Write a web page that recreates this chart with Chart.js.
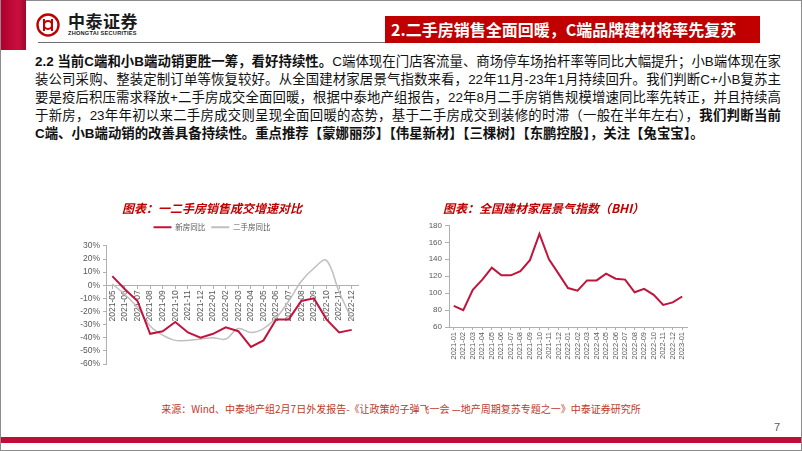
<!DOCTYPE html>
<html>
<head>
<meta charset="utf-8">
<script src="https://cdn.jsdelivr.net/npm/chart.js@4.4.0/dist/chart.umd.min.js"></script>
<style>
  html, body { margin: 0; padding: 0; background: #fff; }
  body { width: 802px; height: 451px; position: relative; overflow: hidden;
         font-family: "Liberation Sans", "Noto Sans CJK SC", sans-serif; }
  .abs { position: absolute; }
  #frame { left: 0; top: 0; width: 800px; height: 449px; border: 1px solid #8c8c8c; }
  #redTab { left: 1px; top: 0; width: 25px; height: 50px;
            background: linear-gradient(90deg, #b0002e 0%, #c8103e 70%, #9c0a2c 100%); }
  #hdrLine { left: 38px; top: 42px; width: 348px; height: 0; border-top: 1.5px solid #6f6f6f; }
  #brand { left: 68px; top: 11px; font-family: "Noto Sans CJK SC"; font-weight: 700;
           font-size: 17px; letter-spacing: 0.5px; color: #1a1a1a; line-height: 20px; }
  #brandEn { left: 68px; top: 30px; font-family: "Liberation Sans"; font-weight: 700;
             font-size: 5.6px; letter-spacing: 0.25px; color: #1a1a1a; }
  #titleBox { left: 385px; top: 16px; width: 375px; height: 27px; background: #c00000;
              color: #fff; font-family: "Noto Sans CJK SC"; font-weight: 700; font-size: 16px;
              line-height: 27px; padding-left: 6px; box-sizing: border-box; white-space: nowrap; }
  #body { left: 35px; top: 53px; width: 746px; font-size: 13.4px; line-height: 18px; color: #111; }
  #body div { text-align: justify; text-align-last: justify; white-space: nowrap; }
  #body div.last { text-align-last: left; }
  #body b { font-weight: 700; }
  #source { left: 0; width: 802px; top: 401px; text-align: center; color: #c0392b;
            font-family: "Noto Sans CJK SC"; font-size: 10px; }
  #pageNo { left: 774px; top: 421px; font-size: 11px; color: #595959; }
  #bottomBar { left: 1px; top: 437px; width: 800px; height: 6px; background: #c00d38; }
</style>
</head>
<body>
<div id="frame" class="abs"></div>
<div id="redTab" class="abs"></div>
<svg class="abs" style="left:36px;top:12px" width="24" height="26" viewBox="0 0 24 26">
  <circle cx="12" cy="13" r="10.5" fill="none" stroke="#c00000" stroke-width="2.4"/>
  <path d="M8 7 v12 M16 7 v12 M8 13 a4 4 0 0 1 8 0 M8 13 a4 4 0 0 0 8 0" fill="none" stroke="#c00000" stroke-width="2"/>
</svg>
<div id="brand" class="abs">中泰证券</div>
<div id="brandEn" class="abs">ZHONGTAI SECURITIES</div>
<div id="hdrLine" class="abs"></div>
<div id="titleBox" class="abs">2.二手房销售全面回暖，C端品牌建材将率先复苏</div>

<div id="body" class="abs">
  <div><b>2.2 当前C端和小B端动销更胜一筹，看好持续性。</b>C端体现在门店客流量、商场停车场抬杆率等同比大幅提升；小B端体现在家</div>
  <div>装公司采购、整装定制订单等恢复较好。从全国建材家居景气指数来看，22年11月-23年1月持续回升。我们判断C+小B复苏主</div>
  <div>要是疫后积压需求释放+二手房成交全面回暖，根据中泰地产组报告，22年8月二手房销售规模增速同比率先转正，并且持续高</div>
  <div>于新房，23年年初以来二手房成交则呈现全面回暖的态势，基于二手房成交到装修的时滞（一般在半年左右），<b>我们判断当前</b></div>
  <div class="last"><b>C端、小B端动销的改善具备持续性。重点推荐【蒙娜丽莎】【伟星新材】【三棵树】【东鹏控股】，关注【兔宝宝】。</b></div>
</div>

<canvas id="salesChart" class="abs" style="left:60px;top:195px" width="320" height="200"></canvas>
<canvas id="bhiChart" class="abs" style="left:400px;top:195px" width="300" height="200"></canvas>

<div id="source" class="abs">来源：Wind、中泰地产组2月7日外发报告-《让政策的子弹飞一会 —地产周期复苏专题之一》中泰证券研究所</div>
<div id="pageNo" class="abs">7</div>
<div id="bottomBar" class="abs"></div>

<script>
// 一二手房销售成交增速 (%)
const salesMonths = ["2021-05", "2021-06", "2021-07", "2021-08", "2021-09", "2021-10", "2021-11", "2021-12",
    "2022-01", "2022-02", "2022-03", "2022-04", "2022-05", "2022-06", "2022-07", "2022-08",
    "2022-09", "2022-10", "2022-11", "2022-12"];
const newHouseYoY = [7, -3, -12, -37, -35, -28, -36, -40, -37, -32, -35, -47, -42, -26, -26, -12, -10, -26, -36, -34];
const secondHandYoY = [1, -7, -17, -31, -38, -42, -42, -41, -40, -41, -33, -36, -33, -25, -12, 3, 13, 19, -5, -26];

// 全国建材家居景气指数 BHI
const bhiMonths = ["2021-01", "2021-02", "2021-03", "2021-04", "2021-05", "2021-06", "2021-07", "2021-08",
    "2021-09", "2021-10", "2021-11", "2021-12", "2022-01", "2022-02", "2022-03", "2022-04",
    "2022-05", "2022-06", "2022-07", "2022-08", "2022-09", "2022-10", "2022-11", "2022-12", "2023-01"];
const bhiValues = [85, 80, 104, 116, 130, 121, 121, 126, 139, 170, 140, 123, 106, 103, 115, 115,
    123, 117, 116, 101, 105, 98, 86, 89, 96];

const red = "#c0143c";
const gray = "#bfbfbf";
const axisGray = "#b0b0b0";
const tickText = "#595959";
const titleFont = { family: "Noto Sans CJK SC", size: 12, weight: "bold", style: "italic" };

new Chart(document.getElementById("salesChart").getContext("2d"), {
    type: "line",
    data: {
        labels: salesMonths,
        datasets: [
            { label: "新房同比", data: newHouseYoY, borderColor: red, backgroundColor: red,
              borderWidth: 2, pointRadius: 0, tension: 0 },
            { label: "二手房同比", data: secondHandYoY, borderColor: gray, backgroundColor: gray,
              borderWidth: 1.5, pointRadius: 0, tension: 0.35 }
        ]
    },
    options: {
        responsive: false,
        animation: false,
        layout: { padding: { left: 6, right: 22, bottom: 31 } },
        plugins: {
            tooltip: { enabled: false },
            title: { display: true, text: "图表：一二手房销售成交增速对比", color: "#c00000",
                     font: titleFont, padding: { top: 6, bottom: 2 } },
            legend: {
                display: true,
                labels: {
                    boxWidth: 18, boxHeight: 2, padding: 6, color: tickText,
                    font: { family: "Noto Sans CJK SC", size: 7.5 },
                    generateLabels: (chart) => Chart.defaults.plugins.legend.labels.generateLabels(chart)
                        .map(l => Object.assign(l, { lineWidth: 0 }))
                }
            }
        },
        scales: {
            x: {
                position: { y: 0 },
                offset: true,
                afterFit: (s) => { s.height = 0; },
                grid: { display: true, drawOnChartArea: false, drawTicks: true, tickLength: 3, color: axisGray },
                border: { display: true, color: axisGray },
                ticks: { minRotation: 90, maxRotation: 90, autoSkip: false, padding: 2,
                         color: tickText, font: { family: "Liberation Sans", size: 8.5 } }
            },
            y: {
                min: -60, max: 30,
                afterFit: (s) => { s.width = 40; },
                grid: { display: true, drawOnChartArea: false, drawTicks: true, tickLength: 3, color: axisGray },
                border: { display: true, color: axisGray },
                ticks: { stepSize: 10, autoSkip: false, padding: 3, color: tickText,
                         font: { family: "Liberation Sans", size: 8.5 },
                         callback: (v) => v + "%" }
            }
        }
    },
    plugins: [{
        // push the plot area down a little so 30% sits under the legend like the original
        id: "legendGap",
        afterInit: (chart) => {
            const legend = chart.legend;
            const fit = legend.fit.bind(legend);
            legend.fit = function () { fit(); this.height += 5; };
        }
    }]
});

new Chart(document.getElementById("bhiChart").getContext("2d"), {
    type: "line",
    data: {
        labels: bhiMonths,
        datasets: [
            { label: "BHI", data: bhiValues, borderColor: red, backgroundColor: red,
              borderWidth: 2, pointRadius: 0, tension: 0 }
        ]
    },
    options: {
        responsive: false,
        animation: false,
        layout: { padding: { left: 0, right: 13, bottom: 34 } },
        plugins: {
            tooltip: { enabled: false },
            legend: { display: false },
            title: { display: true, text: "图表：全国建材家居景气指数（BHI）", color: "#c00000",
                     font: titleFont, padding: { top: 6, bottom: 10 } }
        },
        scales: {
            x: {
                offset: true,
                afterFit: (s) => { s.height = 34; },
                grid: { display: true, drawOnChartArea: false, drawTicks: true, tickLength: 3, color: axisGray },
                border: { display: true, color: axisGray },
                ticks: { minRotation: 90, maxRotation: 90, autoSkip: false, padding: 2,
                         color: tickText, font: { family: "Liberation Sans", size: 7.5 } }
            },
            y: {
                min: 60, max: 180,
                afterFit: (s) => { s.width = 49; },
                grid: { display: true, drawOnChartArea: false, drawTicks: true, tickLength: 4, color: axisGray },
                border: { display: true, color: axisGray },
                ticks: { stepSize: 20, autoSkip: false, padding: 3, color: tickText,
                         font: { family: "Liberation Sans", size: 8 } }
            }
        }
    }
});
</script>
</body>
</html>
